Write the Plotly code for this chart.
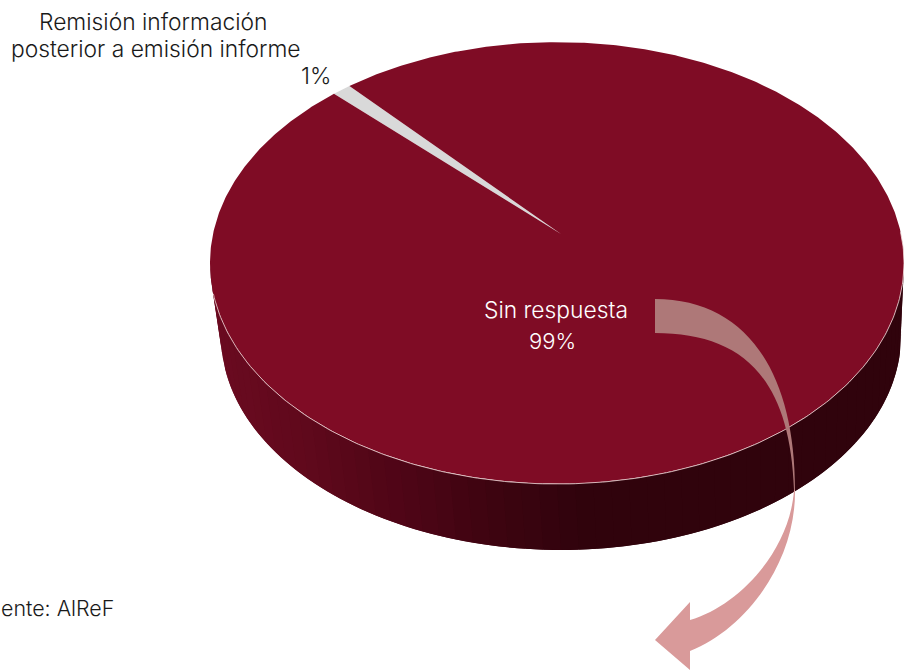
import numpy as np
import plotly.graph_objects as go

categories = ["Remisión información<br>posterior a emisión informe", "Sin respuesta"]
values = [1, 99]
pct_labels = ["1%", "99%"]
source = "ente: AlReF"

TOP = "#7f0c25"
GREY = "#d9d9d9"
FONT = "Inter"
START = -45.1  # degrees clockwise from the back of the pie

# pie projection
CX, CY, RX, RY = 557, 263, 347, 221
AX, AY, K, D = 561, 234, 0.131, 217
BX, BY, BRX, BRY = 561, 336, 340, 214


def wedge(a0, a1):
    t = np.radians(np.linspace(a0, a1, max(int(abs(a1 - a0) * 2), 4)))
    u, v = np.sin(t), -np.cos(t)
    w = RX * np.sqrt(1 - K ** 2)
    x = CX + w * u / (1 - K * v)
    y = AY + D * v / (1 - K * v)
    return np.r_[AX, x, AX], np.r_[AY, y, AY]


fig = go.Figure()

# side wall: each band runs under the next one, so no seam shows
edges = np.radians(np.linspace(180, 0, 61))
step = edges[1] - edges[0]
for a in edges[:-1]:
    t = np.linspace(a, max(a + 2 * step, 0), 5)
    xt, yt = CX + RX * np.cos(t), CY + RY * np.sin(t)
    xb, yb = BX + BRX * np.cos(t), BY + BRY * np.sin(t)
    xm = CX + RX * np.cos(a + step / 2)
    r = np.interp(xm, [215, 300, 400, 500, 580], [0x6a, 0x60, 0x4e, 0x3c, 0x30])
    g = np.interp(xm, [215, 300, 400, 500, 580], [0x0a, 0x09, 0x05, 0x04, 0x03])
    b_ = np.interp(xm, [215, 300, 400, 500, 580], [0x20, 0x1c, 0x16, 0x10, 0x0c])
    col = f"rgb({r:.0f},{g:.0f},{b_:.0f})"
    fig.add_trace(go.Scatter(x=np.r_[xt, xb[::-1]], y=np.r_[yt, yb[::-1]], mode="lines",
                             fill="toself", fillcolor=col, line=dict(width=0),
                             hoverinfo="skip", showlegend=False))

# top surface, from the values
total = sum(values)
angle = START
for cat, val, col in zip(categories, values, [GREY, TOP]):
    sweep = 360 * val / total
    xs, ys = wedge(angle, angle + sweep)
    fig.add_trace(go.Scatter(x=xs, y=ys, mode="lines", fill="toself", fillcolor=col,
                             line=dict(color=col, width=0), name=cat.replace("<br>", " "),
                             hoverinfo="name", showlegend=False))
    angle += sweep

# pale rim
t = np.radians(np.linspace(-8, 172, 200))
fig.add_trace(go.Scatter(x=CX + RX * np.cos(t), y=CY + RY * np.sin(t), mode="lines",
                         line=dict(color="rgba(240,215,215,0.8)", width=1),
                         hoverinfo="skip", showlegend=False))

arrow_upper = ("M655,299 C745,299 795,370 795,490 L794,490 "
               "C790,375 740,333 655,333 Z")
arrow_lower = ("M795,490 C796,560 748,628 690,651 L690,670 L655,640 L690,602 L690,620 "
               "C740,605 790,550 794,490 Z")
shapes = [
    dict(type="path", path=arrow_upper, xref="x", yref="y", fillcolor="#ae7878", line=dict(width=0)),
    dict(type="path", path=arrow_lower, xref="x", yref="y", fillcolor="#d99a9a", line=dict(width=0)),
]


def note(x, y, text, color="#1a1a1a", anchor="center", size=22.8):
    return dict(x=x, y=y, text=text, showarrow=False, xref="x", yref="y", xanchor=anchor,
                yanchor="middle", font=dict(family=FONT, size=size, color=color, weight=300))


lines = categories[0].split("<br>")
annotations = [
    note(153, 21, lines[0]),
    note(156, 48, lines[1]),
    note(316, 75, pct_labels[0]),
    note(556, 309, categories[1], color="white"),
    note(552, 341, pct_labels[1], color="white", size=22),
    note(116, 608, source, anchor="right", size=21.4),
]

fig.update_layout(
    width=904, height=670, margin=dict(l=0, r=0, t=0, b=0),
    paper_bgcolor="white", plot_bgcolor="white", showlegend=False,
    shapes=shapes, annotations=annotations,
    xaxis=dict(range=[0, 904], visible=False, fixedrange=True),
    yaxis=dict(range=[670, 0], visible=False, fixedrange=True),
)
fig.write_html("out.html", config={"displayModeBar": False},
               post_script="document.body.style.margin='0';")
